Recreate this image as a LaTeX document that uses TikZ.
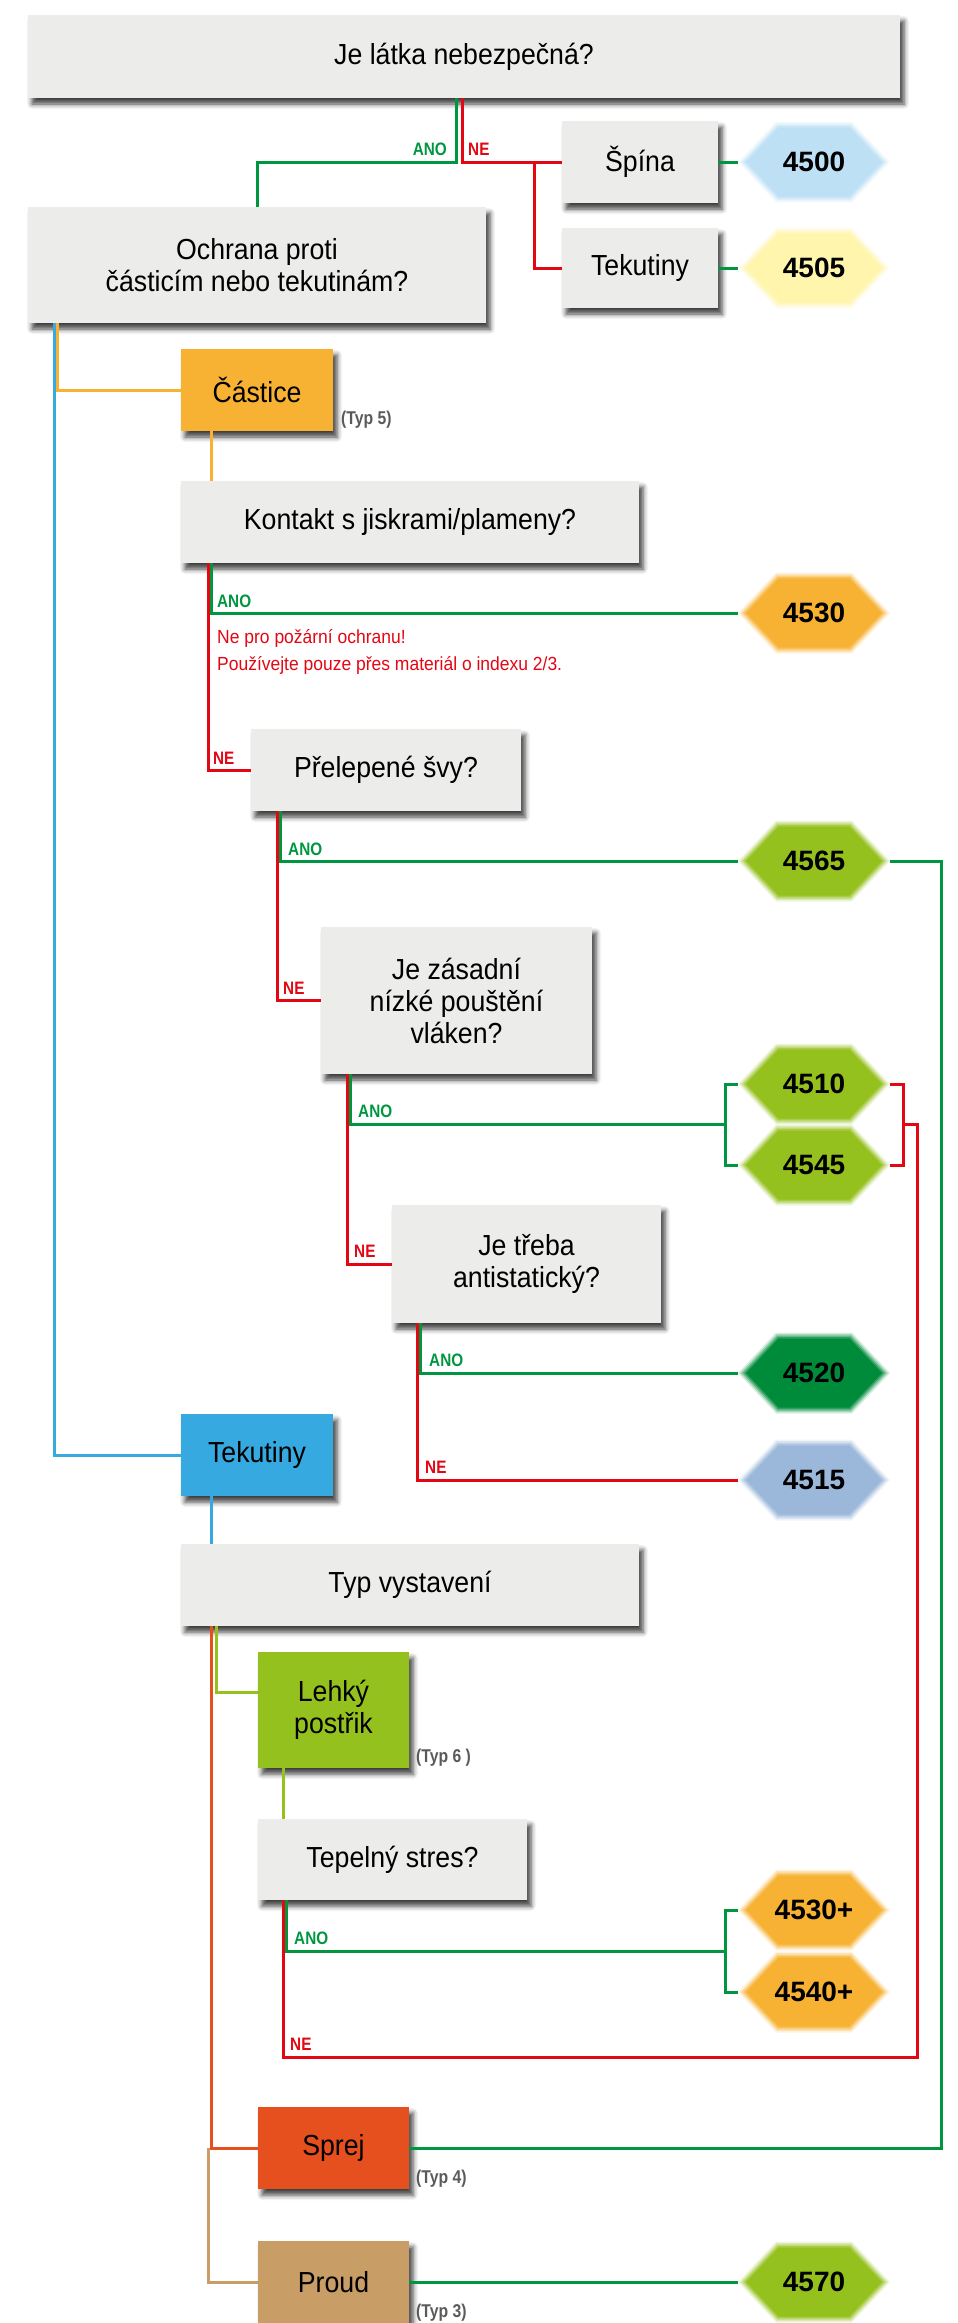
\documentclass[tikz,border=0pt]{standalone}
\usepackage{fontspec}
\setmainfont{Liberation Sans}[FakeStretch=0.92]
\newfontfamily\lblfont{Liberation Sans}[FakeStretch=0.85]
\newfontfamily\numfont{Liberation Sans}
\usetikzlibrary{shadows.blur,calc,backgrounds}
\definecolor{boxgray}{RGB}{236,236,235}
\definecolor{cgreen}{RGB}{0,150,64}
\definecolor{cred}{RGB}{227,6,19}
\definecolor{cblue}{RGB}{54,169,225}
\definecolor{corange}{RGB}{247,178,52}
\definecolor{clime}{RGB}{149,193,31}
\definecolor{cspray}{RGB}{229,80,30}
\definecolor{ctan}{RGB}{201,157,102}
\definecolor{hblue}{RGB}{190,224,245}
\definecolor{hyellow}{RGB}{255,245,173}
\definecolor{hdark}{RGB}{0,139,58}
\definecolor{hsteel}{RGB}{155,184,218}
\definecolor{typgray}{RGB}{90,90,90}
\tikzset{
 qbox/.style={fill=boxgray, inner sep=0pt, align=center, font=\fontsize{29}{32}\selectfont,
   blur shadow={shadow xshift=4pt, shadow yshift=-6pt, shadow blur radius=5pt, shadow opacity=75}},
 hexn/.style={minimum width=152pt, minimum height=81pt, inner sep=0pt, font=\numfont\bfseries\fontsize{28}{30}\selectfont},
 link/.style={line width=3pt},
 gl/.style={link, draw=cgreen},
 rl/.style={link, draw=cred},
 bl/.style={link, draw=cblue},
 ol/.style={link, draw=corange},
 lgl/.style={link, draw=clime},
 sl/.style={link, draw=cspray},
 tl/.style={link, draw=ctan},
 anol/.style={font=\lblfont\bfseries\fontsize{18}{20}\selectfont, text=cgreen, inner sep=0pt, anchor=base west},
 nel/.style={font=\lblfont\bfseries\fontsize{18}{20}\selectfont, text=cred, inner sep=0pt, anchor=base west},
 typl/.style={font=\lblfont\bfseries\fontsize{18.5}{20}\selectfont, text=typgray, inner sep=0pt, anchor=base west},
 notel/.style={font=\fontsize{19}{27}\selectfont, text=cred, inner sep=0pt, anchor=base west},
}
\newcommand\hexbg[2]{%
 \begin{scope}[on background layer, shift={(#1.center)}]
  \foreach \d/\o in {0/15,1.5/35,3/60,4.5/82,6/100} {
   \fill[#2!\o!white] ({-76+1.37*\d},0) -- ({-38+0.43*\d},{40.5-\d}) -- ({38-0.43*\d},{40.5-\d})
     -- ({76-1.37*\d},0) -- ({38-0.43*\d},{-40.5+\d}) -- ({-38+0.43*\d},{-40.5+\d}) -- cycle;
  }
 \end{scope}}
\begin{document}
\begin{tikzpicture}[x=1pt,y=-1pt]
\useasboundingbox (0,0) rectangle (958,2323);
% question and category boxes
\node[qbox, minimum width=872pt, minimum height=83pt] (title) at (464,56.5) {Je látka nebezpečná?};
\node[qbox, minimum width=156pt, minimum height=82pt] (spina) at (640,162) {Špína};
\node[qbox, minimum width=156pt, minimum height=80pt] (tek1) at (640,268) {Tekutiny};
\node[qbox, minimum width=458pt, minimum height=116pt] (ochrana) at (257,265) {Ochrana proti\\částicím nebo tekutinám?};
\node[qbox, fill=corange, minimum width=152pt, minimum height=82pt] (castice) at (257,390) {Částice};
\node[qbox, minimum width=458pt, minimum height=82pt] (kontakt) at (410,522) {Kontakt s jiskrami/plameny?};
\node[qbox, minimum width=270pt, minimum height=82pt] (prelep) at (386,770) {Přelepené švy?};
\node[qbox, minimum width=271pt, minimum height=147pt] (zasad) at (456.5,1000.5) {Je zásadní\\nízké pouštění\\vláken?};
\node[qbox, minimum width=269pt, minimum height=118pt] (anti) at (526.5,1264) {Je třeba\\antistatický?};
\node[qbox, fill=cblue, minimum width=152pt, minimum height=82pt] (tek2) at (257,1455) {Tekutiny};
\node[qbox, minimum width=458pt, minimum height=82pt] (typv) at (410,1585) {Typ vystavení};
\node[qbox, fill=clime, minimum width=151pt, minimum height=116pt] (lehky) at (333.5,1710) {Lehký\\postřik};
\node[qbox, minimum width=269pt, minimum height=81pt] (tepel) at (392.5,1859.5) {Tepelný stres?};
\node[qbox, fill=cspray, minimum width=151pt, minimum height=82pt] (sprej) at (333.5,2148) {Sprej};
\node[qbox, fill=ctan, minimum width=151pt, minimum height=82pt] (proud) at (333.5,2282) {Proud};
% hexagons
\node[hexn] (h4500) at (814,162) {4500}; \hexbg{h4500}{hblue}
\node[hexn] (h4505) at (814,268) {4505}; \hexbg{h4505}{hyellow}
\node[hexn] (h4530) at (814,613) {4530}; \hexbg{h4530}{corange}
\node[hexn] (h4565) at (814,861) {4565}; \hexbg{h4565}{clime}
\node[hexn] (h4510) at (814,1084) {4510}; \hexbg{h4510}{clime}
\node[hexn] (h4545) at (814,1165) {4545}; \hexbg{h4545}{clime}
\node[hexn] (h4520) at (814,1373) {4520}; \hexbg{h4520}{hdark}
\node[hexn] (h4515) at (814,1480) {4515}; \hexbg{h4515}{hsteel}
\node[hexn] (h4530p) at (814,1910) {4530+}; \hexbg{h4530p}{corange}
\node[hexn] (h4540p) at (814,1992) {4540+}; \hexbg{h4540p}{corange}
\node[hexn] (h4570) at (814,2282) {4570}; \hexbg{h4570}{clime}
% helper coordinates
\coordinate (j1g) at (456,162);
\coordinate (j1r) at (462,162);
\coordinate (b1) at (534,162);
\coordinate (bx) at (54,1455);
\coordinate (ox) at (57,390);
\coordinate (x208) at (208,0);
\coordinate (x211) at (211,0);
\coordinate (x277) at (277,0);
\coordinate (x280) at (280,0);
\coordinate (x283) at (283,0);
\coordinate (x286) at (286,0);
\coordinate (x347) at (347,0);
\coordinate (x350) at (350,0);
\coordinate (x417) at (417,0);
\coordinate (x420) at (420,0);
\coordinate (gx) at (941,0);
\coordinate (brg1) at (725,1124);
\coordinate (brr1) at (903,1124);
\coordinate (brg2) at (725,1951);
\coordinate (rr) at (917,2057);
\coordinate (lg) at (216,1692);
% connectors
\draw[gl] (title.south -| j1g) -- (j1g) -| (ochrana.north);
\draw[rl] (title.south -| j1r) -- (j1r) -- (spina.west);
\draw[rl] (b1) |- (tek1.west);
\draw[gl] (spina.east) -- (h4500.west);
\draw[gl] (tek1.east) -- (h4505.west);
\draw[bl] (ochrana.south -| bx) -- (bx) -- (tek2.west);
\draw[ol] (ochrana.south -| ox) -- (ox) -- (castice.west);
\draw[ol] (castice.south -| x211) -- (kontakt.north -| x211);
\draw[rl] (kontakt.south -| x208) |- (prelep.west);
\draw[gl] (kontakt.south -| x211) |- (h4530.west);
\draw[rl] (prelep.south -| x277) |- (zasad.west);
\draw[gl] (prelep.south -| x280) |- (h4565.west);
\draw[gl] (h4565.east) -| (sprej.east -| gx) -- (sprej.east);
\draw[rl] (zasad.south -| x347) |- (anti.west);
\draw[gl] (zasad.south -| x350) |- (brg1);
\draw[gl] (h4510.west) -| (h4545.west -| brg1) -- (h4545.west);
\draw[rl] (h4510.east) -| (h4545.east -| brr1) -- (h4545.east);
\draw[rl] (anti.south -| x417) |- (h4515.west);
\draw[gl] (anti.south -| x420) |- (h4520.west);
\draw[bl] (tek2.south -| x211) -- (typv.north -| x211);
\draw[tl] (sprej.west -| x208) |- (proud.west);
\draw[sl] (typv.south -| x211) |- (sprej.west);
\draw[lgl] (typv.south -| lg) -- (lg) -- (lehky.west |- lg);
\draw[lgl] (lehky.south -| x283) -- (tepel.north -| x283);
\draw[rl] (tepel.south -| x283) |- (rr) |- (brr1);
\draw[gl] (tepel.south -| x286) |- (brg2);
\draw[gl] (h4530p.west) -| (h4540p.west -| brg2) -- (h4540p.west);
\draw[gl] (proud.east) -- (h4570.west);
% labels
\node[anol, anchor=base east] (l1) at (447,155) {ANO};
\node[nel] (l2) at (468,155) {NE};
\node[anol] (l3) at (217,607) {ANO};
\node[notel] (n1) at (217,643) {Ne pro požární ochranu!};
\node[notel] (n2) at (217,670) {Používejte pouze přes materiál o indexu 2/3.};
\node[nel] (l4) at (213,764) {NE};
\node[anol] (l5) at (288,855) {ANO};
\node[nel] (l6) at (283,994) {NE};
\node[anol] (l7) at (358,1117) {ANO};
\node[nel] (l8) at (354,1257) {NE};
\node[anol] (l9) at (429,1366) {ANO};
\node[nel] (l10) at (425,1473) {NE};
\node[anol] (l11) at (294,1944) {ANO};
\node[nel] (l12) at (290,2050) {NE};
\node[typl] (t5) at (341,424) {(Typ 5)};
\node[typl] (t6) at (416,1762) {(Typ 6 )};
\node[typl] (t4) at (416,2183) {(Typ 4)};
\node[typl] (t3) at (416,2317) {(Typ 3)};
\end{tikzpicture}
\end{document}
